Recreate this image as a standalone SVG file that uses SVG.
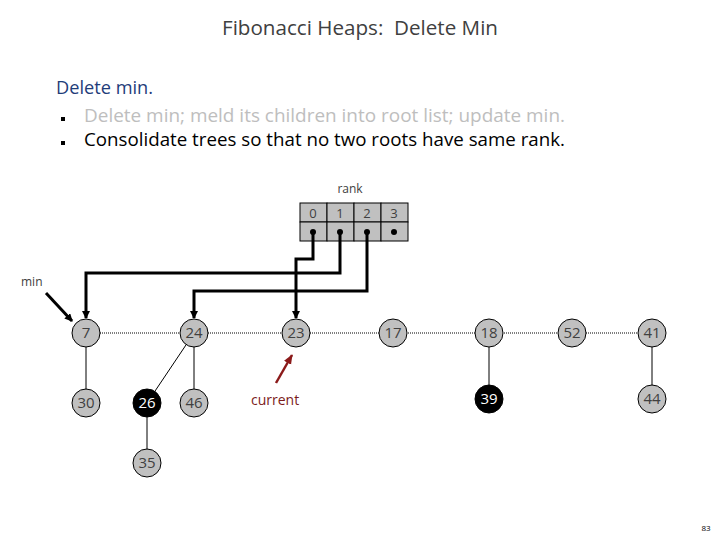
<svg xmlns="http://www.w3.org/2000/svg" width="720" height="540" viewBox="0 0 720 540">
<style>
  text { font-family: "Open Sans", "Liberation Sans", sans-serif; }
  .title { font-size: 20px; fill: #404040; white-space: pre; }
  .h1 { font-size: 18px; fill: #1F3D7A; }
  .b1 { font-size: 18px; fill: #BEBEBE; }
  .b2 { font-size: 18px; fill: #000000; }
  .bullet { fill: #000000; }
  .node circle { fill: #C0C0C0; stroke: #000000; stroke-width: 1; }
  .node.black circle { fill: #000000; }
  .node text { font-size: 15px; fill: #404040; text-anchor: middle; }
  .node.black text { fill: #FFFFFF; }
  .cell { fill: #C0C0C0; stroke: #000000; stroke-width: 1; }
  .rnum { font-size: 13px; fill: #404040; text-anchor: middle; }
  .dot { fill: #000000; }
  .ptr { fill: none; stroke: #000000; stroke-width: 3; }
  .edge { stroke: #000000; stroke-width: 1; fill: none; }
  .root { stroke: #000000; stroke-width: 1; stroke-dasharray: 1 1; fill: none; }
  .lbl { font-size: 12px; fill: #404040; }
</style>
<defs>
  <marker id="ah" markerUnits="userSpaceOnUse" markerWidth="8" markerHeight="8" refX="7" refY="4" orient="auto">
    <path d="M0,0 L8,4 L0,8 z" fill="#000000"/>
  </marker>
  <marker id="ahr" markerUnits="userSpaceOnUse" markerWidth="10" markerHeight="10" refX="9" refY="5" orient="auto">
    <path d="M0,1 L10,5 L0,9 z" fill="#8B1A1A"/>
  </marker>
</defs>

<text class="title" x="360" y="35" text-anchor="middle" textLength="276" lengthAdjust="spacingAndGlyphs" xml:space="preserve">Fibonacci Heaps:  Delete Min</text>
<text class="h1" x="56" y="94" textLength="97" lengthAdjust="spacingAndGlyphs">Delete min.</text>
<rect class="bullet" x="61" y="117" width="4" height="4"/>
<text class="b1" x="84" y="122" textLength="481" lengthAdjust="spacingAndGlyphs">Delete min; meld its children into root list; update min.</text>
<rect class="bullet" x="61" y="141" width="4" height="4"/>
<text class="b2" x="84" y="146" textLength="481" lengthAdjust="spacingAndGlyphs">Consolidate trees so that no two roots have same rank.</text>

<g id="rank-table">
  <text class="lbl" x="350" y="193" text-anchor="middle" font-size="11">rank</text>
  <rect class="cell" x="300" y="203" width="27" height="19"/>
  <rect class="cell" x="327" y="203" width="27" height="19"/>
  <rect class="cell" x="354" y="203" width="27" height="19"/>
  <rect class="cell" x="381" y="203" width="27" height="19"/>
  <rect class="cell" x="300" y="222" width="27" height="19"/>
  <rect class="cell" x="327" y="222" width="27" height="19"/>
  <rect class="cell" x="354" y="222" width="27" height="19"/>
  <rect class="cell" x="381" y="222" width="27" height="19"/>
  <text class="rnum" x="313" y="218">0</text>
  <text class="rnum" x="340" y="218">1</text>
  <text class="rnum" x="367" y="218">2</text>
  <text class="rnum" x="394" y="218">3</text>
  <circle class="dot" cx="313" cy="232" r="3"/>
  <circle class="dot" cx="340" cy="232" r="3"/>
  <circle class="dot" cx="367" cy="232" r="3"/>
  <circle class="dot" cx="394" cy="232" r="3"/>
</g>

<g id="connectors">
  <line class="root" x1="86" y1="333" x2="652" y2="333"/>
  <line class="edge" x1="86" y1="333" x2="86" y2="403"/>
  <line class="edge" x1="194" y1="333" x2="194" y2="403"/>
  <line class="edge" x1="194" y1="333" x2="147" y2="403"/>
  <line class="edge" x1="147" y1="403" x2="147" y2="463"/>
  <line class="edge" x1="489" y1="333" x2="489" y2="399"/>
  <line class="edge" x1="652" y1="333" x2="652" y2="399"/>
  <path class="ptr" d="M313 232 V259 H296 V318" marker-end="url(#ah)"/>
  <path class="ptr" d="M340 232 V273 H86 V318" marker-end="url(#ah)"/>
  <path class="ptr" d="M367 232 V291 H194 V318" marker-end="url(#ah)"/>
  <line class="ptr" x1="46" y1="293" x2="72" y2="321" marker-end="url(#ah)"/>
  <line x1="276" y1="383" x2="292" y2="355" stroke="#8B1A1A" stroke-width="2.5" marker-end="url(#ahr)"/>
</g>

<text class="lbl" x="21" y="286">min</text>
<text x="251" y="405" font-size="14" fill="#7B1A1A">current</text>

<g id="n7" class="node"><circle cx="86" cy="333" r="14"/><text x="86" y="338">7</text></g>
<g id="n24" class="node"><circle cx="194" cy="333" r="14"/><text x="194" y="338">24</text></g>
<g id="n23" class="node"><circle cx="296" cy="333" r="14"/><text x="296" y="338">23</text></g>
<g id="n17" class="node"><circle cx="393" cy="333" r="14"/><text x="393" y="338">17</text></g>
<g id="n18" class="node"><circle cx="489" cy="333" r="14"/><text x="489" y="338">18</text></g>
<g id="n52" class="node"><circle cx="572" cy="333" r="14"/><text x="572" y="338">52</text></g>
<g id="n41" class="node"><circle cx="652" cy="333" r="14"/><text x="652" y="338">41</text></g>
<g id="n30" class="node"><circle cx="86" cy="403" r="14"/><text x="86" y="408">30</text></g>
<g id="n26" class="node black"><circle cx="147" cy="403" r="14"/><text x="147" y="408">26</text></g>
<g id="n46" class="node"><circle cx="194" cy="403" r="14"/><text x="194" y="408">46</text></g>
<g id="n35" class="node"><circle cx="147" cy="463" r="14"/><text x="147" y="468">35</text></g>
<g id="n39" class="node black"><circle cx="489" cy="399" r="14"/><text x="489" y="404">39</text></g>
<g id="n44" class="node"><circle cx="652" cy="399" r="14"/><text x="652" y="404">44</text></g>

<text x="706" y="531" font-size="8" fill="#000000" text-anchor="middle">83</text>
</svg>
